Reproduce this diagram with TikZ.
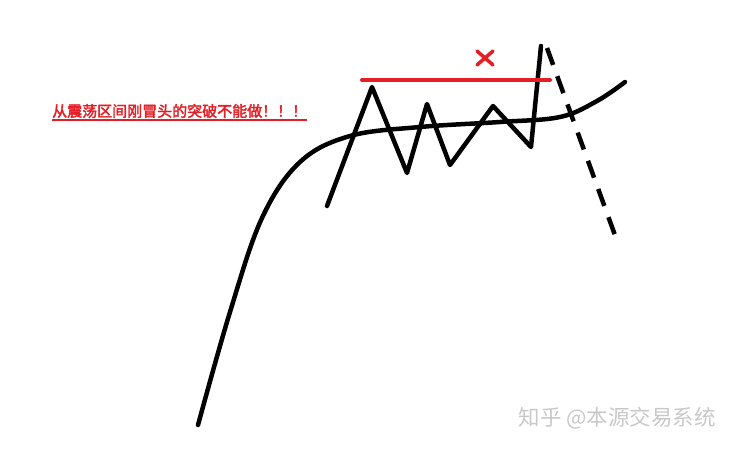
\documentclass[tikz,border=0pt]{standalone}
\usepackage{fontspec}
\newfontfamily\cjk{Noto Sans CJK SC}
\newfontfamily\cjkbold[FakeBold=2.5]{Noto Sans CJK SC}
\usepackage{tikz}
\usetikzlibrary{calc, positioning}
\definecolor{alarm}{RGB}{228,30,36}
\definecolor{wm}{RGB}{200,200,200}

\begin{document}
\begin{tikzpicture}[x=1pt, y=-1pt, line join=round, line cap=round]
                  \useasboundingbox (0,0) rectangle (734,449);
                  \tikzset{pen/.style={line width=4.5pt, black}}

                  % the trend
                  \coordinate (t0) at (198,425);
                  \draw[pen] plot[smooth, tension=0.6] coordinates {(198,425) (230,312) (262,218) (300,162) (350,136) (420,127) (500,122) (560,117) (597,101) (625,82)};

                  % range and breakout
                  \coordinate (z0) at (327,206);
                  \coordinate (p1) at (372,87);
                  \coordinate (v1) at (407,173);
                  \coordinate (p2) at (427,104);
                  \coordinate (v2) at (450,165);
                  \coordinate (p3) at (493,106);
                  \coordinate (v3) at (531,147);
                  \coordinate (top) at (541,46);
                  \draw[pen] (z0) -- (p1) -- (v1) -- (p2) -- (v2) -- (p3) -- (v3) -- (top);

                  \coordinate (d0) at (547,48);
                  \coordinate (d1) at (616,238);
                  \draw[pen, line cap=butt, dash pattern=on 18pt off 12pt] (d0) -- (d1);

                  % resistance
                  \coordinate (r0) at (362,80);
                  \coordinate (r1) at (550,80);
                  \draw[alarm, line width=4pt] (r0) -- (r1);
                  \coordinate (x) at (485,58);
                  \draw[alarm, line width=3.5pt] ($(x)+(-8,-7)$) -- ($(x)+(8,7)$);
                  \draw[alarm, line width=3.5pt] ($(x)+(-8,7)$) -- ($(x)+(8,-7)$);

                  \node[anchor=west, inner sep=0pt, text=alarm] (note) at (52,111)
                    {\cjkbold\fontsize{15}{16}\selectfont 从震荡区间刚冒头的突破不能做！！！};
                  \draw[alarm, line width=1.2pt, line cap=butt] (note.west |- 0,120) -- (note.east |- 0,120);

                  \node[anchor=east, inner sep=0pt, text=wm] (wmark) at (716,418)
                    {\cjk\fontsize{21.5}{23}\selectfont 知乎 @本源交易系统};
                \end{tikzpicture}
\end{document}
